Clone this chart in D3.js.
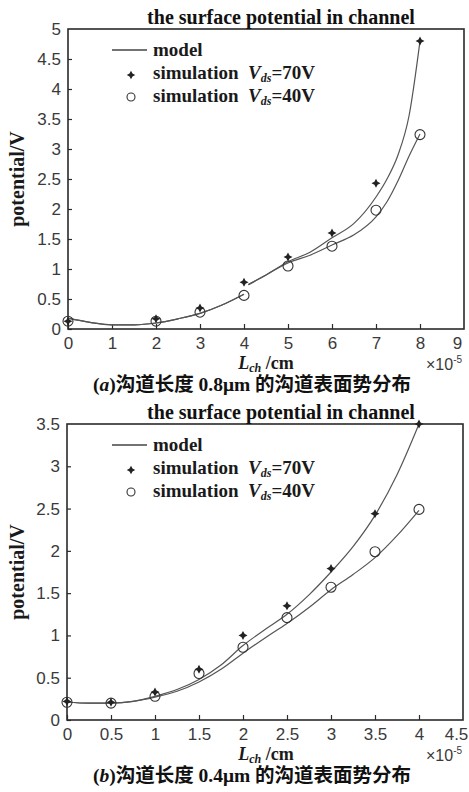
<!DOCTYPE html>
<html>
<head>
<meta charset="utf-8">
<script src="https://cdn.jsdelivr.net/npm/d3@7"></script>
<style>
  body { margin: 0; background: #fff; }
  svg { display: block; }
</style>
</head>
<body>
<script>
// ---- data: x in units of 1e-5 cm, potential in V ----

// (a) channel length 0.8um
var xTicksA = [0, 1, 2, 3, 4, 5, 6, 7, 8, 9];
var yTicksA = [0, 0.5, 1, 1.5, 2, 2.5, 3, 3.5, 4, 4.5, 5];
var simXA  = [0, 2, 3, 4, 5, 6, 7, 8];
var sim70A = [0.13, 0.17, 0.35, 0.78, 1.2, 1.6, 2.43, 4.8];
var sim40A = [0.13, 0.13, 0.28, 0.56, 1.05, 1.38, 1.98, 3.24];
// model curve has a small jump just after 4 (null = gap)
var modelXA  = [0, 0.5, 1, 1.5, 2, 2.5, 3, 3.5, 4, null, 4.1, 4.5, 5, 5.5, 6, 6.5, 7, 7.25, 7.5, 7.75, 8];
var model70A = [0.18, 0.11, 0.07, 0.07, 0.1, 0.17, 0.26, 0.4, 0.58, null, 0.74, 0.9, 1.12, 1.28, 1.52, 1.76, 2.2, 2.5, 2.9, 3.55, 4.8];
var model40A = [0.18, 0.11, 0.07, 0.07, 0.1, 0.17, 0.26, 0.4, 0.58, null, 0.74, 0.9, 1.1, 1.23, 1.4, 1.57, 1.87, 2.12, 2.47, 2.88, 3.25];

// (b) channel length 0.4um
var xTicksB = [0, 0.5, 1, 1.5, 2, 2.5, 3, 3.5, 4, 4.5];
var yTicksB = [0, 0.5, 1, 1.5, 2, 2.5, 3, 3.5];
var simXB  = [0, 0.5, 1, 1.5, 2, 2.5, 3, 3.5, 4];
var sim70B = [0.22, 0.21, 0.33, 0.6, 1.0, 1.35, 1.79, 2.44, 3.5];
var sim40B = [0.21, 0.2, 0.28, 0.55, 0.86, 1.21, 1.57, 1.99, 2.49];
var modelXB  = [0, 0.25, 0.5, 0.75, 1, 1.25, 1.5, 1.75, 2, 2.25, 2.5, 2.75, 3, 3.25, 3.5, 3.75, 4];
var model70B = [0.21, 0.2, 0.2, 0.22, 0.28, 0.36, 0.48, 0.65, 0.88, 1.07, 1.25, 1.48, 1.75, 2.05, 2.42, 2.9, 3.5];
var model40B = [0.21, 0.2, 0.2, 0.22, 0.27, 0.34, 0.45, 0.6, 0.79, 0.97, 1.14, 1.33, 1.54, 1.72, 1.92, 2.18, 2.48];

var title = "the surface potential in channel";
var captionA = ["a", "沟道长度 0.8μm 的沟道表面势分布"];
var captionB = ["b", "沟道长度 0.4μm 的沟道表面势分布"];

// ---- drawing ----
var serif = "'Liberation Serif', 'Times New Roman', 'Noto Sans CJK SC', serif";
var sans = "'Liberation Sans', Arial, sans-serif";
var ink = "#2a2a2a";

var svg = d3.select("body").append("svg")
    .attr("width", 469)
    .attr("height", 792);

// 4-point star marker like the scanned '*'
var starType = {
  draw: function(ctx, size) {
    var r = Math.sqrt(size) * 0.75, w = r * 0.35;
    ctx.moveTo(0, -r);
    ctx.lineTo(w, -w);
    ctx.lineTo(r, 0);
    ctx.lineTo(w, w);
    ctx.lineTo(0, r);
    ctx.lineTo(-w, w);
    ctx.lineTo(-r, 0);
    ctx.lineTo(-w, -w);
    ctx.closePath();
  }
};

function drawPanel(p) {
  var x = d3.scaleLinear().domain([0, p.xMax]).range([p.left, p.right]);
  var y = d3.scaleLinear().domain([0, p.yMax]).range([p.bottom, p.top]);
  var g = svg.append("g");

  // axes (ticks inward)
  var xa = g.append("g")
      .attr("transform", "translate(0," + p.bottom + ")")
      .call(d3.axisBottom(x).tickValues(p.xTicks).tickSizeInner(-5).tickSizeOuter(0)
        .tickPadding(8).tickFormat(function(d) { return String(d); }));
  var ya = g.append("g")
      .attr("transform", "translate(" + p.left + ",0)")
      .call(d3.axisLeft(y).tickValues(p.yTicks).tickSizeInner(-4).tickSizeOuter(0)
        .tickPadding(7).tickFormat(function(d) { return String(d); }));
  [xa, ya].forEach(function(a) {
    a.select(".domain").remove();
    a.selectAll("line").attr("stroke", ink).attr("stroke-width", 1.2);
    a.selectAll("text").attr("font-family", sans).attr("font-size", 17).attr("fill", "#3a3a3a");
  });
  // last tick: no mark at the box edge, label pulled in a little
  var lastX = xa.selectAll(".tick").filter(function(d) { return d === p.xMax; });
  lastX.select("line").remove();
  lastX.select("text").attr("dx", -7);
  ya.selectAll(".tick").filter(function(d) { return d === p.yMax; }).select("line").remove();

  g.append("rect")
      .attr("x", p.left).attr("y", p.top)
      .attr("width", p.right - p.left).attr("height", p.bottom - p.top)
      .attr("fill", "none").attr("stroke", ink).attr("stroke-width", 1.6);

  // model curves
  var line = d3.line()
      .defined(function(d) { return d[0] !== null && d[1] !== null; })
      .x(function(d) { return x(d[0]); })
      .y(function(d) { return y(d[1]); })
      .curve(d3.curveMonotoneX);
  [p.model70, p.model40].forEach(function(m) {
    g.append("path")
        .datum(p.modelX.map(function(v, i) { return [v, m[i]]; }))
        .attr("d", line)
        .attr("fill", "none")
        .attr("stroke", "#555")
        .attr("stroke-width", 1.2);
  });

  // simulation points
  g.selectAll(".c40").data(p.simX).enter().append("circle")
      .attr("cx", function(d) { return x(d); })
      .attr("cy", function(d, i) { return y(p.sim40[i]); })
      .attr("r", 5)
      .attr("fill", "none")
      .attr("stroke", "#333")
      .attr("stroke-width", 1.1);
  g.selectAll(".s70").data(p.simX).enter().append("path")
      .attr("transform", function(d, i) { return "translate(" + x(d) + "," + y(p.sim70[i]) + ")"; })
      .attr("d", d3.symbol().type(starType).size(36))
      .attr("fill", "#222");

  // title
  g.append("text")
      .attr("x", 281).attr("y", p.top - 5)
      .attr("text-anchor", "middle")
      .attr("font-family", serif).attr("font-weight", "bold").attr("font-size", 20)
      .attr("fill", "#111")
      .text(title);

  // legend
  var lx = 112, ly = p.top + 21;
  g.append("line")
      .attr("x1", lx).attr("x2", lx + 35).attr("y1", ly).attr("y2", ly)
      .attr("stroke", "#444").attr("stroke-width", 1.3);
  g.append("path")
      .attr("transform", "translate(" + (lx + 19) + "," + (ly + 25) + ")")
      .attr("d", d3.symbol().type(starType).size(32))
      .attr("fill", "#222");
  g.append("circle")
      .attr("cx", lx + 19).attr("cy", ly + 47).attr("r", 4)
      .attr("fill", "none").attr("stroke", "#333").attr("stroke-width", 1.1);
  var rows = [["model", null], ["simulation  ", "=70V"], ["simulation  ", "=40V"]];
  rows.forEach(function(r, i) {
    var t = g.append("text")
        .attr("x", lx + 41).attr("y", ly + 6 + i * 23)
        .attr("font-family", serif).attr("font-weight", "bold").attr("font-size", 19)
        .attr("fill", "#1a1a1a")
        .attr("xml:space", "preserve");
    t.append("tspan").text(r[0]);
    if (r[1]) {
      t.append("tspan").attr("font-style", "italic").text("V");
      t.append("tspan").attr("font-style", "italic").attr("font-size", 12).attr("dy", 3).text("ds");
      t.append("tspan").attr("dy", -3).text(r[1]);
    }
  });

  // axis titles
  g.append("text")
      .attr("transform", "translate(24," + ((p.top + p.bottom) / 2) + ") rotate(-90)")
      .attr("text-anchor", "middle")
      .attr("font-family", serif).attr("font-weight", "bold").attr("font-size", 20)
      .attr("fill", "#1a1a1a")
      .text("potential/V");

  var xt = g.append("text")
      .attr("x", 266).attr("y", p.bottom + 40)
      .attr("text-anchor", "middle")
      .attr("font-family", serif).attr("font-weight", "bold").attr("font-size", 18)
      .attr("fill", "#1a1a1a");
  xt.append("tspan").attr("font-style", "italic").text("L");
  xt.append("tspan").attr("font-style", "italic").attr("font-size", 12).attr("dy", 3).text("ch");
  xt.append("tspan").attr("dy", -3).text(" /cm");

  var ex = g.append("text")
      .attr("x", 426).attr("y", p.bottom + 41)
      .attr("font-family", sans).attr("font-size", 16)
      .attr("fill", "#3a3a3a");
  ex.append("tspan").text("×10");
  ex.append("tspan").attr("font-size", 10).attr("dy", -7).text("-5");

  // caption
  var cap = g.append("text")
      .attr("x", 252).attr("y", p.bottom + 62)
      .attr("text-anchor", "middle")
      .attr("font-family", serif).attr("font-weight", "bold").attr("font-size", 19.5)
      .attr("fill", "#111");
  cap.append("tspan").text("(");
  cap.append("tspan").attr("font-style", "italic").text(p.caption[0]);
  cap.append("tspan").text(")" + p.caption[1]);
}

drawPanel({
  left: 68, right: 464, top: 29, bottom: 329, xMax: 9, yMax: 5,
  xTicks: xTicksA, yTicks: yTicksA,
  simX: simXA, sim70: sim70A, sim40: sim40A,
  modelX: modelXA, model70: model70A, model40: model40A,
  caption: captionA
});
drawPanel({
  left: 67, right: 463, top: 424, bottom: 720, xMax: 4.5, yMax: 3.5,
  xTicks: xTicksB, yTicks: yTicksB,
  simX: simXB, sim70: sim70B, sim40: sim40B,
  modelX: modelXB, model70: model70B, model40: model40B,
  caption: captionB
});
</script>
</body>
</html>
